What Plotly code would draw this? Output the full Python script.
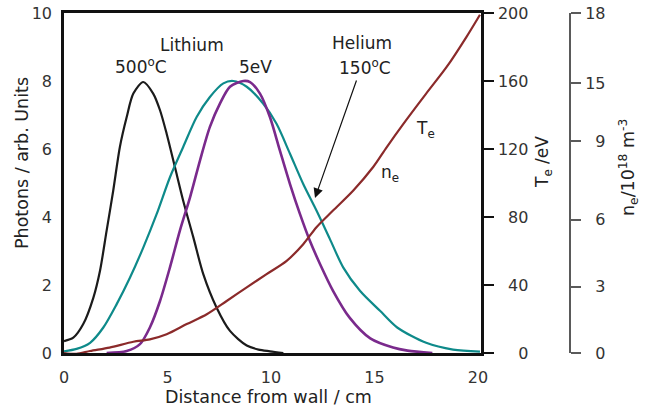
import plotly.graph_objects as go

# Distance from wall (cm) and photon emission (arb. units)
dist_li = [0.0, 0.45, 0.93, 1.42, 1.74, 2.06, 2.38, 2.7, 3.03, 3.35, 3.83, 4.31, 4.64, 4.96,
           5.36, 5.76, 6.25, 6.73, 7.37, 8.02, 8.83, 9.4, 9.95, 10.6]
photons_li = [0.35, 0.45, 0.85, 1.63, 2.42, 3.6, 4.78, 6.06, 6.94, 7.63, 7.97, 7.63, 7.14, 6.45,
              5.47, 4.48, 3.4, 2.32, 1.34, 0.65, 0.22, 0.1, 0.05, 0.0]

dist_he = [0.0, 0.61, 1.26, 1.9, 2.54, 3.19, 3.83, 4.48, 5.12, 5.76, 6.41, 7.05, 7.7, 8.18,
           8.83, 9.63, 10.27, 10.92, 11.56, 12.2, 12.85, 13.49, 14.3, 15.27, 16.1, 17.5,
           18.8, 20.1]
photons_he = [0.05, 0.12, 0.3, 0.75, 1.43, 2.22, 3.1, 4.09, 5.17, 6.06, 6.94, 7.53, 7.93, 8.0,
              7.83, 7.33, 6.74, 5.86, 4.97, 4.19, 3.35, 2.52, 1.83, 1.24, 0.75, 0.3,
              0.1, 0.04]

dist_5ev = [2.06, 3.03, 3.67, 4.15, 4.64, 5.12, 5.6, 6.09, 6.57, 7.05, 7.54, 8.02, 8.66,
            8.99, 9.47, 9.95, 10.43, 10.92, 11.4, 11.88, 12.37, 13.0, 13.8, 14.8, 15.9,
            16.6, 17.8]
photons_5ev = [0.0, 0.06, 0.26, 0.75, 1.53, 2.52, 3.6, 4.58, 5.66, 6.65, 7.34, 7.83, 8.0,
               7.97, 7.63, 6.94, 5.96, 4.97, 4.09, 3.3, 2.62, 1.83, 1.04, 0.43, 0.16,
               0.07, 0.0]

# Electron temperature profile (eV)
dist_te = [0.0, 0.6, 1.26, 2.2, 3.35, 4.15, 4.96, 5.93, 6.9, 7.86, 8.83, 9.79, 10.76, 11.56,
           12.2, 13.0, 13.98, 14.94, 15.59, 16.4, 17.5, 18.5, 19.45, 20.1]
te_ev = [0.0, -0.5, 1.2, 3.2, 6.6, 8.0, 11.0, 17.0, 22.8, 30.6, 38.6, 46.4, 54.2, 64.0,
         74.0, 83.8, 95.6, 109.4, 121.0, 134.8, 152.6, 168.4, 186.0, 199.0]

x_ticks = [0, 5, 10, 15, 20]
y_ticks = [0, 2, 4, 6, 8, 10]
te_ticks = [0, 40, 80, 120, 160, 200]
ne_labels = ["0", "3", "6", "9", "15", "18"]

FONT = "DejaVu Sans"
FS = 16
W, H = 659, 407
ML, MR, MT, MB = 64, 0, 13, 54


def paper(px, py):
    """Convert page pixel coordinates to paper coordinates."""
    return (px - ML) / (W - ML - MR), (H - MB - py) / (H - MT - MB)


FIG_SP = "\u2007"


def pad(s, n):
    return FIG_SP * (n - len(s)) + s


def curve(x, y, color, width, axis="y"):
    return go.Scatter(x=x, y=y, mode="lines", yaxis=axis, hoverinfo="skip",
                      line=dict(color=color, width=width, shape="spline", smoothing=0.8))


fig = go.Figure()
fig.add_trace(curve(dist_li, photons_li, "#1b1b1b", 2.2))
fig.add_trace(curve(dist_he, photons_he, "#0e8a8a", 2.2))
fig.add_trace(curve(dist_5ev, photons_5ev, "#7a2a8c", 2.6))
fig.add_trace(curve(dist_te, te_ev, "#8b2a2a", 2.2, axis="y2"))
# density axis carrier
fig.add_trace(go.Scatter(x=[None], y=[None], mode="lines", yaxis="y3",
                         hoverinfo="skip", showlegend=False))

x_end = (481 - ML) / (W - ML - MR)
ne_pos = (570 - ML) / (W - ML - MR)

fig.update_layout(
    width=W, height=H,
    margin=dict(l=ML, r=MR, t=MT, b=MB, autoexpand=False),
    paper_bgcolor="white", plot_bgcolor="white",
    showlegend=False,
    font=dict(family=FONT, size=FS, color="#222222"),
    xaxis=dict(domain=[0, x_end], range=[0, 20.15], tickvals=x_ticks, automargin=False,
               showline=True, linecolor="#111111", linewidth=2.5, mirror=True,
               ticks="", showgrid=False, zeroline=False, ticklabelstandoff=8,
               tickfont=dict(size=FS, color="#333333")),
    yaxis=dict(range=[0, 10], tickvals=y_ticks, showline=True, linecolor="#111111",
               linewidth=2.5, mirror=True, ticks="", showgrid=False, zeroline=False,
               automargin=False, ticklabelstandoff=6, tickfont=dict(size=FS, color="#333333")),
    yaxis2=dict(overlaying="y", side="right", anchor="x", range=[0, 200], automargin=False,
                tickvals=te_ticks, ticktext=[pad(str(v), 3) for v in te_ticks],
                showline=True, linecolor="#111111", linewidth=2.5,
                ticks="outside", ticklen=10, tickwidth=1.5, tickcolor="#111111",
                showgrid=False, zeroline=False, ticklabelstandoff=1,
                tickfont=dict(size=FS, color="#333333")),
    yaxis3=dict(overlaying="y", side="right", anchor="free", position=ne_pos,
                range=[0, 18], tickvals=[0, 3.5, 7.06, 11.2, 14.28, 18], automargin=False,
                ticktext=[pad(s, 2) for s in ne_labels],
                showline=True, linecolor="#5a5a5a", linewidth=2,
                ticks="outside", ticklen=10, tickwidth=1.5, tickcolor="#5a5a5a",
                showgrid=False, zeroline=False, ticklabelstandoff=1,
                tickfont=dict(size=FS, color="#333333")),
)


def label(text, px, py, angle=0, size=FS):
    x, y = paper(px, py)
    fig.add_annotation(text=text, x=x, y=y, xref="paper", yref="paper",
                       showarrow=False, textangle=angle,
                       font=dict(family=FONT, size=size, color="#222222"),
                       xanchor="center", yanchor="middle")


label("Photons / arb. Units", 22, 163, angle=-90, size=17.5)
label("Distance from wall / cm", 268, 397, size=17.5)
label("T<sub>e</sub> /eV", 543, 162, angle=-90, size=17)
label("n<sub>e</sub>/10<sup>18</sup> m<sup>-3</sup>", 628, 168, angle=-90, size=17.5)

label("Lithium", 192, 45, size=17)
label("500<sup>o</sup>C", 141, 66, size=17)
label("5eV", 255, 67, size=17)
label("Helium", 362, 43, size=17)
label("150<sup>o</sup>C", 365, 67, size=17)
label("T<sub>e</sub>", 425, 129, size=17)
label("n<sub>e</sub>", 390, 173, size=17)

# arrow pointing at the helium profile
hx, hy = paper(315, 198)
fig.add_annotation(x=hx, y=hy, xref="paper", yref="paper", ax=42, ay=-119,
                   axref="pixel", ayref="pixel", text="", showarrow=True,
                   arrowhead=2, arrowsize=1.6, arrowwidth=1.2, arrowcolor="#111111")

fig.write_html("out.html")
